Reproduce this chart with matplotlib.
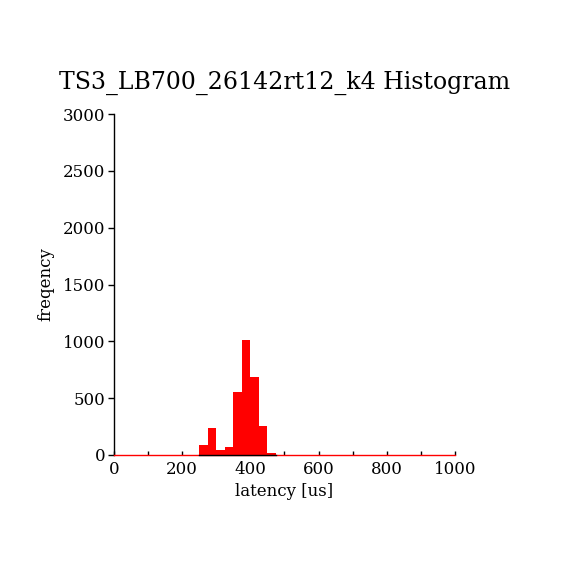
import matplotlib as mpl

mpl.use("Agg")

import matplotlib.pyplot as plt
import numpy as np
from matplotlib.ticker import MultipleLocator

TITLE = "TS3_LB700_26142rt12_k4 Histogram"
BIN_EDGES = [250, 275, 300, 325, 350, 375, 400, 425, 450, 475]
COUNTS = [88, 237, 47, 70, 554, 1011, 686, 255, 20]

plt.rcParams["font.family"] = ["DejaVu Serif"]

fig = plt.figure(figsize=(5.7, 5.7), dpi=100)
fig.patch.set_facecolor("white")
ax = fig.add_axes([0.2, 0.2018, 0.598, 0.598])

edges = np.asarray(BIN_EDGES, dtype=float)
ax.bar(edges[:-1], COUNTS, width=np.diff(edges), align="edge", color="red", linewidth=0, zorder=2)
ax.plot([0, 1000], [0, 0], color="red", linewidth=1.0, zorder=3, clip_on=False)
ax.plot([edges[0], edges[-1]], [0, 0], color="black", linewidth=1.0, zorder=4, clip_on=False)

ax.set_xlim(0, 1000)
ax.set_ylim(0, 3000)
ax.xaxis.set_major_locator(MultipleLocator(200))
ax.xaxis.set_minor_locator(MultipleLocator(100))
ax.yaxis.set_major_locator(MultipleLocator(500))

for side in ("top", "right", "bottom"):
    ax.spines[side].set_visible(False)
ax.spines["left"].set_linewidth(1.0)

ax.tick_params(axis="x", which="both", direction="in", length=3, width=1, labelsize=12, pad=4)
ax.tick_params(axis="y", which="major", direction="out", length=4, width=1, labelsize=12, pad=2)

ax.set_xlabel("latency [us]", fontsize=12, labelpad=4)
ax.set_ylabel("freqency", fontsize=12, labelpad=6)
ax.set_title(TITLE, fontsize=17, pad=18)

fig.savefig("out.png", dpi=100, facecolor="white")
plt.close(fig)
